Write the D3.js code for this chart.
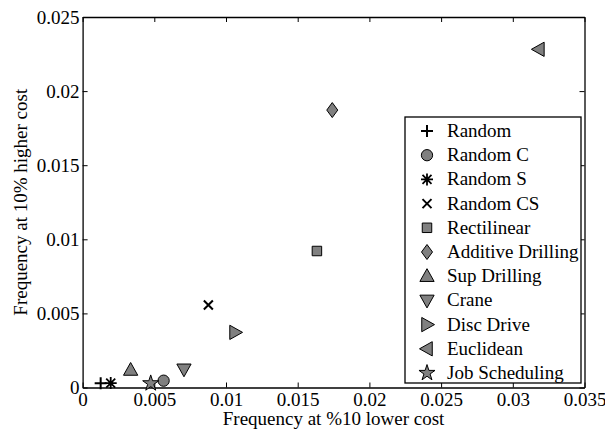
<!DOCTYPE html>
<html>
<head>
<meta charset="utf-8">
<script src="https://cdn.jsdelivr.net/npm/d3@7"></script>
<style>
  body { margin: 0; background: #fff; }
  svg text { font-family: "Liberation Serif", "Times New Roman", Times, serif; }
</style>
</head>
<body>
<div id="chart"></div>
<script>
// data
const seriesNames = ['Random', 'Random C', 'Random S', 'Random CS', 'Rectilinear',
  'Additive Drilling', 'Sup Drilling', 'Crane', 'Disc Drive', 'Euclidean', 'Job Scheduling'];
const markerKinds = ['plus', 'circle', 'asterisk', 'x', 'square',
  'diamond', 'triUp', 'triDown', 'triRight', 'triLeft', 'star'];
const lowerCost = [0.00126, 0.00565, 0.00196, 0.00877, 0.01634,
  0.01741, 0.00335, 0.00707, 0.01063, 0.03182, 0.00475];
const higherCost = [0.00028, 0.00046, 0.00030, 0.00557, 0.00921,
  0.01872, 0.00118, 0.00123, 0.00372, 0.02282, 0.00028];
const xTicks = [0, 0.005, 0.01, 0.015, 0.02, 0.025, 0.03, 0.035];
const yTicks = [0, 0.005, 0.01, 0.015, 0.02, 0.025];

const W = 605, H = 430;
const m = {left: 82.6, right: 20.5, top: 17, bottom: 42.5};
const gray = '#808080';
const serif = '"Liberation Serif", "Times New Roman", Times, serif';
const fs = '19px';

const svg = d3.select('#chart').append('svg')
    .attr('width', W).attr('height', H);

const x = d3.scaleLinear().domain([0, 0.035]).range([m.left, W - m.right]);
const y = d3.scaleLinear().domain([0, 0.025]).range([H - m.bottom, m.top]);
const fmt = (d) => d === 0 ? '0' : String(+d.toFixed(3));

// axes, matlab style: ticks inside, box on
const tickLen = 5;
svg.append('g').attr('transform', `translate(0,${y(0)})`)
    .call(d3.axisBottom(x).tickValues(xTicks).tickFormat(fmt).tickSizeInner(-tickLen).tickSizeOuter(0).tickPadding(5));
svg.append('g').attr('transform', `translate(0,${y(0.025)})`)
    .call(d3.axisTop(x).tickValues(xTicks).tickFormat('').tickSizeInner(-tickLen).tickSizeOuter(0));
svg.append('g').attr('transform', `translate(${x(0)},0)`)
    .call(d3.axisLeft(y).tickValues(yTicks).tickFormat(fmt).tickSizeInner(-tickLen).tickSizeOuter(0).tickPadding(3));
svg.append('g').attr('transform', `translate(${x(0.035)},0)`)
    .call(d3.axisRight(y).tickValues(yTicks).tickFormat('').tickSizeInner(-tickLen).tickSizeOuter(0));

svg.selectAll('.domain').attr('stroke', '#000').attr('stroke-width', 1.3);
svg.selectAll('.tick line').attr('stroke', '#000');
svg.selectAll('.tick text').attr('fill', '#000')
    .style('font-size', fs).style('font-family', serif);

svg.append('text')
    .attr('x', (x(0) + x(0.035)) / 2).attr('y', 425)
    .attr('text-anchor', 'middle').style('font-size', fs)
    .text('Frequency at %10 lower cost');
svg.append('text')
    .attr('transform', `translate(27,${(y(0) + y(0.025)) / 2}) rotate(-90)`)
    .attr('text-anchor', 'middle').style('font-size', fs)
    .text('Frequency at 10% higher cost');

// markers
const tri = (s) => `M0,${-s}L${s * 0.95},${s * 0.7}L${-s * 0.95},${s * 0.7}Z`;
const drawMarker = (g, kind) => {
  const r = 6;
  if (kind === 'plus') {
    g.append('path').attr('d', `M${-r},0H${r}M0,${-r}V${r}`)
        .attr('stroke', '#000').attr('stroke-width', 2).attr('fill', 'none');
  } else if (kind === 'x') {
    const a = r * 0.75;
    g.append('path').attr('d', `M${-a},${-a}L${a},${a}M${-a},${a}L${a},${-a}`)
        .attr('stroke', '#000').attr('stroke-width', 2).attr('fill', 'none');
  } else if (kind === 'asterisk') {
    const a = r * 0.75;
    g.append('path').attr('d', `M${-r},0H${r}M0,${-r}V${r}M${-a},${-a}L${a},${a}M${-a},${a}L${a},${-a}`)
        .attr('stroke', '#000').attr('stroke-width', 1.8).attr('fill', 'none');
  } else {
    let d;
    let rot = 0;
    if (kind === 'circle') d = d3.symbol(d3.symbolCircle, 100)();
    else if (kind === 'square') d = d3.symbol(d3.symbolSquare, 90)();
    else if (kind === 'diamond') d = 'M0,-7.5L5.5,0L0,7.5L-5.5,0Z';
    else if (kind === 'star') d = d3.symbol(d3.symbolStar, 80)();
    else {
      d = tri(7.5);
      rot = {triUp: 0, triDown: 180, triRight: 90, triLeft: -90}[kind];
    }
    g.append('path').attr('d', d).attr('transform', `rotate(${rot})`)
        .attr('fill', gray).attr('stroke', '#000').attr('stroke-width', 1);
  }
};

const pts = seriesNames.map((name, i) => ({name, kind: markerKinds[i], vx: lowerCost[i], vy: higherCost[i]}));
svg.append('g').selectAll('g').data(pts).join('g')
    .attr('transform', (d) => `translate(${x(d.vx)},${y(d.vy)})`)
    .each(function(d) { drawMarker(d3.select(this), d.kind); });

// legend
const lg = svg.append('g');
const lx = 405, ly = 117, lw = 176, lh = 266, step = 24.2;
lg.append('rect').attr('x', lx).attr('y', ly).attr('width', lw).attr('height', lh)
    .attr('fill', '#fff').attr('stroke', '#000').attr('stroke-width', 1.3);
const items = lg.selectAll('g').data(pts).join('g')
    .attr('transform', (d, i) => `translate(${lx + 22},${ly + 14 + i * step})`);
items.each(function(d) { drawMarker(d3.select(this), d.kind); });
items.append('text').attr('x', 20).attr('y', 6).style('font-size', fs)
    .text((d) => d.name);
</script>
</body>
</html>
